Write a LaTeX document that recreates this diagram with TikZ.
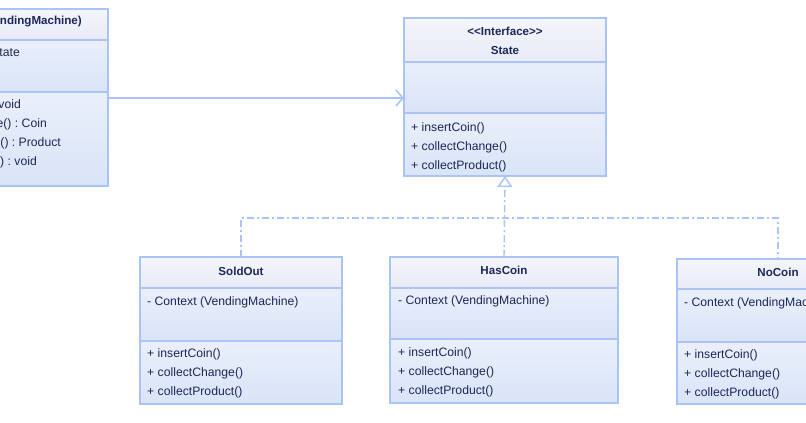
\documentclass[tikz,border=0pt]{standalone}
\usepackage{fontspec}
\setmainfont{Liberation Sans}
\usetikzlibrary{arrows.meta}
\frenchspacing
\definecolor{umlline}{RGB}{169,196,245}
\definecolor{umltext}{RGB}{28,40,88}
\definecolor{headtop}{RGB}{245,245,250}
\definecolor{headbot}{RGB}{232,236,248}
\definecolor{bodytop}{RGB}{234,239,250}
\definecolor{bodybot}{RGB}{217,228,248}
\begin{document}
\begin{tikzpicture}[x=1pt,y=-1pt,
    font=\fontsize{12.2}{14}\selectfont,
    part/.style={draw=umlline,line width=1.8pt,outer sep=0pt,inner sep=0pt,anchor=north west},
    head/.style={part,top color=headtop,bottom color=headbot},
    body/.style={part,top color=bodytop,bottom color=bodybot},
    txt/.style={text=umltext,inner sep=0pt,anchor=west,text height=8.5pt,text depth=0pt},
    title/.style={txt,anchor=center,font=\fontsize{11.6}{14}\selectfont\bfseries},
    assoc/.style={draw=umlline,line width=1.6pt,-{Straight Barb[length=7pt,width=16pt]}},
    realize/.style={draw=umlline,line width=1.4pt,dash pattern=on 7pt off 3pt on 2pt off 3pt}]
      \useasboundingbox (0,0) rectangle (806,423);
      \clip (0,0) rectangle (806,423);
      % Context (cut at the left edge)
      \draw
        (-20,9) node[head,minimum width=128pt,minimum height=31pt] (ctxH){}
        (-20,40) node[body,minimum width=128pt,minimum height=52pt] (ctxA){}
        (-20,92) node[body,minimum width=128pt,minimum height=94pt] (ctxO){};
      \draw
        (82,20) node[title,anchor=east] (ctxname){ndingMachine)}
        (20,52) node[txt,anchor=east] (ctxattr){tate}
        (21,104) node[txt,anchor=east] (ctxop1){void}
        (47,123) node[txt,anchor=east] (ctxop2){e() : Coin}
        (61,142) node[txt,anchor=east] (ctxop3){() : Product}
        (37,161) node[txt,anchor=east] (ctxop4){) : void};
      % State
      \draw
        (404,18) node[head,minimum width=202pt,minimum height=44pt] (stateH){}
        (404,62) node[body,minimum width=202pt,minimum height=51pt] (stateA){}
        (404,113) node[body,minimum width=202pt,minimum height=63pt] (stateO){};
      \draw
        (505,31) node[title] (stereo){{<}{<}Interface{>}{>}}
        (505,50) node[title] (statename){State};
      \foreach \op [count=\i] in {+ insertCoin(),+ collectChange(),+ collectProduct()}
        \node[txt] (stateop\i) at (411,108+19*\i) {\op};
      % SoldOut
      \draw
        (140,257) node[head,minimum width=202pt,minimum height=31pt] (soldoutH){}
        (140,288) node[body,minimum width=202pt,minimum height=53pt] (soldoutA){}
        (140,341) node[body,minimum width=202pt,minimum height=63pt] (soldoutO){};
      \draw
        (241,271) node[title] (soldoutname){SoldOut}
        (147,301) node[txt] (soldoutattr){- Context (VendingMachine)};
      \foreach \op [count=\i] in {+ insertCoin(),+ collectChange(),+ collectProduct()}
        \node[txt] (soldoutop\i) at (147,334+19*\i) {\op};
      % HasCoin
      \draw
        (390,257) node[head,minimum width=228pt,minimum height=31pt] (hascoinH){}
        (390,288) node[body,minimum width=228pt,minimum height=51pt] (hascoinA){}
        (390,339) node[body,minimum width=228pt,minimum height=64pt] (hascoinO){};
      \draw
        (504,270) node[title] (hascoinname){HasCoin}
        (398,300) node[txt] (hascoinattr){- Context (VendingMachine)};
      \foreach \op [count=\i] in {+ insertCoin(),+ collectChange(),+ collectProduct()}
        \node[txt] (hascoinop\i) at (398,333+19*\i) {\op};
      % NoCoin (cut at the right edge)
      \draw
        (677,259) node[head,minimum width=202pt,minimum height=30pt] (nocoinH){}
        (677,289) node[body,minimum width=202pt,minimum height=53pt] (nocoinA){}
        (677,342) node[body,minimum width=202pt,minimum height=62pt] (nocoinO){};
      \draw
        (778,272) node[title] (nocoinname){NoCoin}
        (684,302) node[txt] (nocoinattr){- Context (VendingMachine)};
      \foreach \op [count=\i] in {+ insertCoin(),+ collectChange(),+ collectProduct()}
        \node[txt] (nocoinop\i) at (684,335+19*\i) {\op};
      % connectors
      \coordinate (ctxR) at (108,98);
      \coordinate (junction) at (504,218);
      \begin{scope}
        \draw[assoc] (ctxR) to (ctxR -| stateA.west);
        \draw[realize,-{Triangle[open,length=11pt,width=15pt]}] (hascoinH.north) to (stateO.south);
        \draw[realize] (soldoutH.north) |- (junction) -| (nocoinH.north);
      \end{scope}
    \end{tikzpicture}
\end{document}
